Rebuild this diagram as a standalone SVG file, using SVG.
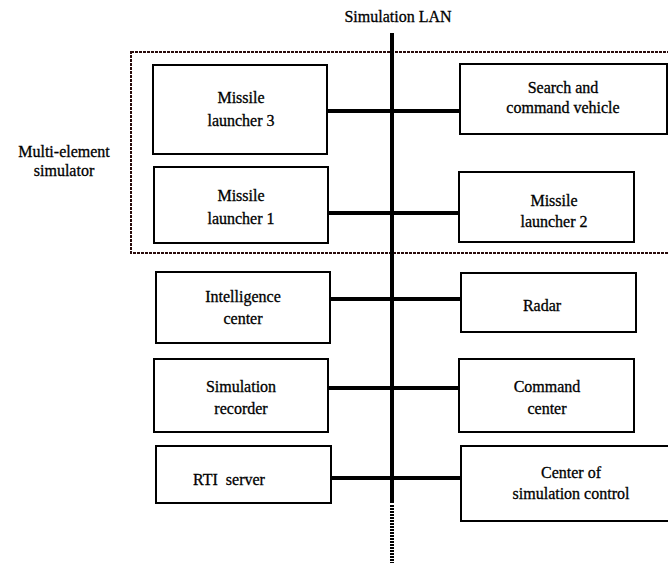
<svg xmlns="http://www.w3.org/2000/svg" width="668" height="565" viewBox="0 0 668 565">
<style>
.box{fill:#fff;stroke:#000;stroke-width:2}
.t{font-family:"Liberation Serif","Times New Roman",serif;font-size:16px;fill:#000;stroke:#000;stroke-width:0.3;text-anchor:middle}
.c{stroke:#000;stroke-width:4;fill:none}
</style>
<rect width="668" height="565" fill="#fff"/>
<text class="t" x="398" y="22">Simulation LAN</text>
<g id="group-multi">
<rect x="131" y="52" width="540" height="201" fill="none" stroke="#2a0c0c" stroke-width="2" stroke-dasharray="3,1"/>
<text class="t" x="64" y="157">Multi-element</text>
<text class="t" x="64" y="176">simulator</text>
</g>
<g id="connectors">
<line class="c" x1="392" y1="33" x2="392" y2="503"/>
<line x1="392" y1="505" x2="392" y2="563" stroke="#000" stroke-width="4" stroke-dasharray="2,1"/>
<line class="c" x1="327" y1="111" x2="459" y2="111"/>
<line class="c" x1="328" y1="213" x2="459" y2="213"/>
<line class="c" x1="330" y1="299" x2="461" y2="299"/>
<line class="c" x1="328" y1="388" x2="459" y2="388" stroke-width="5"/>
<line class="c" x1="330" y1="478" x2="461" y2="478"/>
</g>
<g id="ml3"><rect class="box" x="153" y="65" width="174" height="89"/><text class="t" x="241" y="103">Missile</text><text class="t" x="241" y="126">launcher 3</text></g>
<g id="scv"><rect class="box" x="460" y="64" width="207" height="70"/><text class="t" x="563" y="93">Search and</text><text class="t" x="563" y="113">command vehicle</text></g>
<g id="ml1"><rect class="box" x="154" y="167" width="174" height="76"/><text class="t" x="241" y="201">Missile</text><text class="t" x="241" y="224">launcher 1</text></g>
<g id="ml2"><rect class="box" x="459" y="172" width="175" height="70"/><text class="t" x="554" y="206">Missile</text><text class="t" x="554" y="227">launcher 2</text></g>
<g id="ic"><rect class="box" x="156" y="272" width="174" height="71"/><text class="t" x="243" y="302">Intelligence</text><text class="t" x="243" y="324">center</text></g>
<g id="radar"><rect class="box" x="461" y="273" width="175" height="59"/><text class="t" x="542" y="311">Radar</text></g>
<g id="sr"><rect class="box" x="154" y="359" width="174" height="73"/><text class="t" x="241" y="392">Simulation</text><text class="t" x="241" y="414">recorder</text></g>
<g id="cc"><rect class="box" x="459" y="359" width="175" height="73"/><text class="t" x="547" y="392">Command</text><text class="t" x="547" y="414">center</text></g>
<g id="rti"><rect class="box" x="156" y="446" width="175" height="57"/><text class="t" x="229" y="485" xml:space="preserve">RTI  server</text></g>
<g id="csc"><rect class="box" x="461" y="446" width="210" height="75"/><text class="t" x="571" y="478">Center of</text><text class="t" x="571" y="499">simulation control</text></g>
</svg>
